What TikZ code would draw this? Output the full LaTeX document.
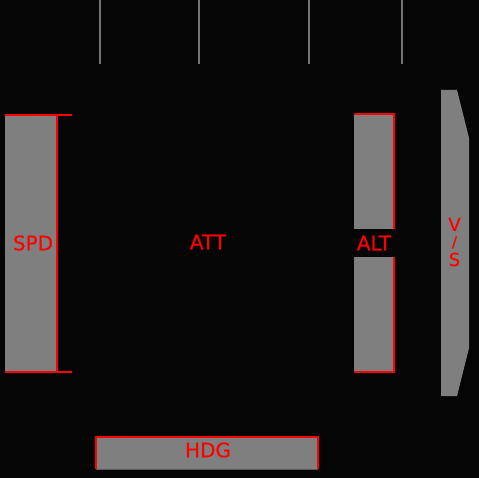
\documentclass[tikz,border=0pt]{standalone}
\usepackage{fontspec}
\setmainfont{DejaVu Sans}[FakeBold=0.4]
\definecolor{bg}{HTML}{050505}
\definecolor{gr}{HTML}{7F7F7F}
\definecolor{tk}{HTML}{747474}
\definecolor{rd}{HTML}{FF0000}
\begin{document}
\begin{tikzpicture}[x=1pt,y=-1pt,
  box/.style={fill=gr,draw=none,inner sep=0pt,outer sep=0pt},
  lbl/.style={text=rd,font=\fontsize{20}{18}\selectfont,inner sep=0pt},
  vsl/.style={text=rd,font=\fontsize{18}{18}\selectfont,inner sep=0pt,anchor=base},
  redl/.style={draw=rd,line width=2pt},
  tickl/.style={draw=tk,line width=1.6pt}]
\fill[bg] (0,0) rectangle (479,478);
\useasboundingbox (0,0) rectangle (479,478);
% top ticks
\foreach \x [count=\i] in {100,199,309,402}{
  \coordinate (ta\i) at (\x,0);
  \coordinate (tb\i) at (\x,64);
  \draw[tickl] (ta\i) -- (tb\i);
}
% SPD
\node[box,minimum width=52pt,minimum height=257pt] (spd) at (31,243.5) {};
\node[lbl] (spdl) at (33,243) {SPD};
\coordinate (spdtr) at (72,115);
\coordinate (spdbr) at (72,372);
\draw[redl] (spd.north west) -- (spdtr);
\draw[redl] (spd.south west) -- (spdbr);
\draw[redl] (spd.north east) -- (spd.south east);
% ALT
\node[box,minimum width=40pt,minimum height=115pt] (altu) at (374,171.5) {};
\node[box,minimum width=40pt,minimum height=115pt] (altd) at (374,314.5) {};
\draw[redl] (altu.north west) -- (altu.north east) -- (altu.south east);
\draw[redl] (altd.north east) -- (altd.south east) -- (altd.south west);
\node[lbl] (altl) at (374,243) {ALT};
% V/S
\fill[gr] (441,90) -- (457,90) -- (469,138) -- (469,348) -- (457,396) -- (441,396) -- cycle;
\node[vsl] (vsv) at (454.5,231) {V};
\node[vsl,font=\fontsize{15}{15}\selectfont] (vss) at (454.5,247) {/};
\node[vsl] (vsS) at (454.5,266) {S};
% ATT
\node[lbl] (att) at (208,242) {ATT};
% HDG
\node[box,minimum width=222pt,minimum height=32pt] (hdg) at (207,453) {};
\draw[draw=gr!70!black,line width=1pt] (hdg.south west) -- (hdg.south east);
\draw[redl] (hdg.south west) -- (hdg.north west) -- (hdg.north east) -- (hdg.south east);
\node[lbl] (hdgl) at (208,450) {HDG};
\end{tikzpicture}
\end{document}
